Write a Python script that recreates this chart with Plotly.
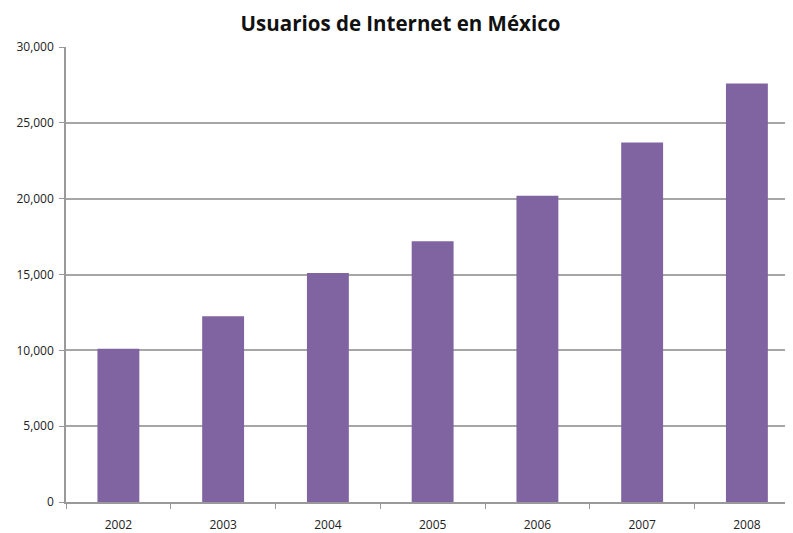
import plotly.graph_objects as go

years = ["2002", "2003", "2004", "2005", "2006", "2007", "2008"]
usuarios = [10100, 12250, 15100, 17200, 20200, 23700, 27600]
y_ticks = [0, 5000, 10000, 15000, 20000, 25000, 30000]
y_tick_labels = ["0", "5,000", "10,000", "15,000", "20,000", "25,000", "30,000"]

fig = go.Figure(go.Bar(x=years, y=usuarios, marker=dict(color="#8064A2", line=dict(width=0))))

# page body has an 8px default margin, so the figure is sized to fit the window
fig.update_layout(
    width=785, height=525,
    margin=dict(l=58, r=0, t=39, b=31),
    paper_bgcolor="white", plot_bgcolor="white",
    bargap=0.6,
    showlegend=False,
    title=dict(text="<b>Usuarios de Internet en México</b>", x=0.5, xanchor="center",
               y=0.97, yanchor="middle",
               font=dict(family="Open Sans", size=20.5, color="#111111")),
    font=dict(family="Open Sans", size=12, color="#222222"),
)
fig.update_xaxes(
    type="category", range=[-0.5, 6.44],
    showline=True, linecolor="#999999", linewidth=1.5,
    ticks="outside", tickson="boundaries", ticklen=5, tickcolor="#999999",
    showgrid=False, tickfont=dict(size=12), ticklabelstandoff=11,
)
fig.update_yaxes(
    range=[0, 30000], tickvals=y_ticks, ticktext=y_tick_labels,
    showline=True, linecolor="#999999", linewidth=1.5,
    ticks="outside", ticklen=5, tickcolor="#999999",
    showgrid=True, gridcolor="#a6a6a6", gridwidth=1.5,
    zeroline=False, tickfont=dict(size=12), ticklabelstandoff=3,
)

fig.write_html("out.html")
